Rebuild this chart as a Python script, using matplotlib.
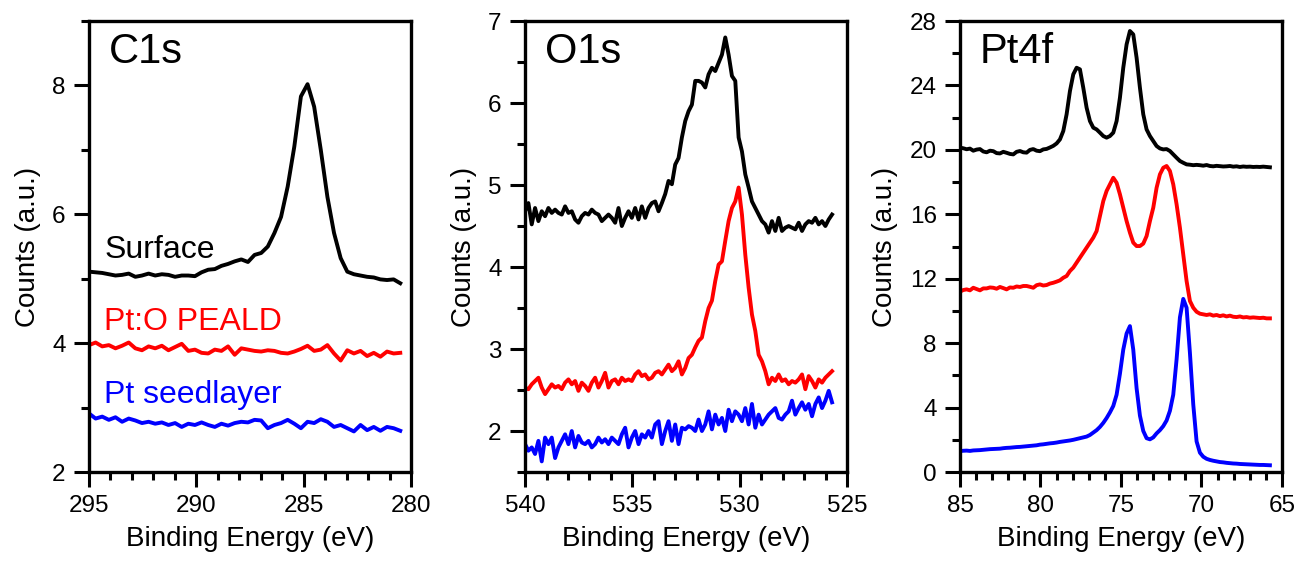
import numpy as np
import matplotlib
matplotlib.use("Agg")
import matplotlib.pyplot as plt
from matplotlib.ticker import MultipleLocator

plt.rcParams['font.family'] = ['Liberation Sans', 'DejaVu Sans']

# ---- C1s (binding energy 295 -> 280.5 eV, even steps) ----
c1s_range = (295.0, 280.5)
c1s_surface = [5.11, 5.10, 5.09, 5.07, 5.05, 5.06, 5.08, 5.03, 5.05, 5.08, 5.05, 5.07,
               5.06, 5.03, 5.05, 5.05, 5.04, 5.10, 5.14, 5.15, 5.20, 5.23, 5.27, 5.30,
               5.26, 5.37, 5.40, 5.50, 5.71, 5.96, 6.43, 7.05, 7.83, 8.02, 7.67, 7.00,
               6.27, 5.71, 5.32, 5.11, 5.07, 5.05, 5.03, 5.02, 4.99, 4.98, 4.99, 4.93]
c1s_pealdo = [3.97, 4.01, 3.95, 3.97, 3.92, 3.96, 4.01, 3.92, 3.89, 3.95, 3.92, 3.96,
              3.89, 3.94, 3.99, 3.88, 3.90, 3.85, 3.84, 3.90, 3.88, 3.95, 3.82, 3.92,
              3.90, 3.88, 3.87, 3.89, 3.88, 3.85, 3.84, 3.87, 3.91, 3.96, 3.88, 3.90,
              3.97, 3.84, 3.73, 3.89, 3.84, 3.88, 3.80, 3.85, 3.79, 3.87, 3.84, 3.85]
c1s_seed = [2.91, 2.83, 2.86, 2.81, 2.85, 2.78, 2.83, 2.80, 2.76, 2.78, 2.75, 2.77,
            2.73, 2.76, 2.70, 2.75, 2.73, 2.77, 2.73, 2.70, 2.75, 2.72, 2.76, 2.78,
            2.77, 2.81, 2.80, 2.68, 2.73, 2.76, 2.81, 2.75, 2.68, 2.78, 2.76, 2.82,
            2.78, 2.70, 2.73, 2.68, 2.63, 2.73, 2.65, 2.70, 2.64, 2.70, 2.68, 2.64]

# ---- O1s (540 -> 525.7 eV) ----
o1s_range = (540.0, 525.7)
o1s_surface = [4.68, 4.78, 4.52, 4.72, 4.56, 4.68, 4.62, 4.72, 4.66, 4.70, 4.66, 4.64,
               4.74, 4.66, 4.68, 4.58, 4.54, 4.62, 4.66, 4.64, 4.70, 4.66, 4.64, 4.56,
               4.60, 4.64, 4.60, 4.54, 4.72, 4.50, 4.60, 4.68, 4.60, 4.72, 4.58, 4.74,
               4.60, 4.72, 4.78, 4.80, 4.68, 4.78, 4.89, 5.05, 5.01, 5.25, 5.33, 5.58,
               5.78, 5.90, 5.98, 6.27, 6.27, 6.25, 6.19, 6.35, 6.43, 6.39, 6.49, 6.59,
               6.80, 6.59, 6.33, 6.27, 5.58, 5.41, 5.13, 4.97, 4.80, 4.72, 4.64, 4.56,
               4.52, 4.42, 4.56, 4.44, 4.60, 4.44, 4.48, 4.50, 4.48, 4.46, 4.54, 4.44,
               4.52, 4.56, 4.54, 4.60, 4.52, 4.56, 4.50, 4.58, 4.64]
o1s_pealdo = [2.53, 2.51, 2.57, 2.61, 2.65, 2.53, 2.45, 2.51, 2.57, 2.53, 2.55, 2.51,
              2.59, 2.63, 2.57, 2.61, 2.49, 2.59, 2.55, 2.49, 2.59, 2.65, 2.53, 2.61,
              2.71, 2.53, 2.61, 2.63, 2.57, 2.65, 2.61, 2.63, 2.61, 2.69, 2.73, 2.67,
              2.69, 2.63, 2.65, 2.71, 2.73, 2.69, 2.75, 2.81, 2.73, 2.77, 2.85, 2.69,
              2.77, 2.89, 2.93, 3.02, 3.10, 3.14, 3.34, 3.50, 3.59, 3.83, 4.03, 4.07,
              4.32, 4.56, 4.72, 4.80, 4.97, 4.64, 4.15, 3.75, 3.42, 3.22, 2.93, 2.85,
              2.73, 2.57, 2.65, 2.61, 2.69, 2.61, 2.63, 2.57, 2.61, 2.59, 2.63, 2.69,
              2.51, 2.67, 2.61, 2.53, 2.63, 2.59, 2.65, 2.69, 2.73]
o1s_seed = [1.84, 1.76, 1.80, 1.72, 1.88, 1.63, 1.92, 1.84, 1.92, 1.67, 1.80, 1.88,
            1.96, 1.84, 2.00, 1.80, 1.94, 1.86, 1.84, 1.88, 1.80, 1.84, 1.92, 1.86,
            1.90, 1.84, 1.92, 1.88, 1.84, 1.96, 2.04, 1.80, 1.92, 2.00, 1.84, 1.96,
            1.92, 2.00, 1.92, 2.08, 2.12, 1.84, 2.00, 2.12, 1.88, 2.08, 1.84, 2.04,
            2.02, 2.06, 2.04, 2.00, 2.14, 2.00, 2.08, 2.24, 2.02, 2.20, 2.08, 2.16,
            2.00, 2.26, 2.12, 2.24, 2.20, 2.12, 2.28, 2.08, 2.33, 2.04, 2.20, 2.08,
            2.14, 2.20, 2.24, 2.28, 2.16, 2.14, 2.20, 2.24, 2.37, 2.20, 2.28, 2.35,
            2.26, 2.33, 2.18, 2.33, 2.41, 2.28, 2.37, 2.49, 2.35]

# ---- Pt4f (85 -> 65.75 eV) ----
pt4f_range = (85.0, 65.75)
pt4f_surface = [20.14, 20.10, 20.04, 20.08, 19.95, 20.02, 20.05, 19.90, 19.85, 19.95,
                19.92, 19.80, 19.78, 19.88, 19.82, 19.75, 19.72, 19.88, 19.93, 19.85,
                19.83, 20.00, 20.05, 19.95, 19.92, 20.03, 20.06, 20.15, 20.25, 20.40,
                20.65, 21.17, 22.21, 23.65, 24.69, 25.10, 25.00, 23.86, 22.62, 21.79,
                21.38, 21.27, 21.07, 20.86, 20.76, 20.86, 21.07, 21.79, 23.24, 25.10,
                26.55, 27.38, 27.17, 25.72, 23.86, 22.21, 21.27, 20.86, 20.55, 20.24,
                20.09, 20.03, 20.05, 19.93, 19.72, 19.51, 19.31, 19.20, 19.10, 19.08,
                19.05, 19.07, 19.05, 19.02, 19.06, 19.00, 18.98, 19.01, 18.99, 18.97,
                18.98, 19.00, 18.96, 18.98, 18.94, 18.97, 18.95, 18.96, 18.94, 18.95,
                18.94, 18.96, 18.94, 18.92]
pt4f_pealdo = [11.20, 11.30, 11.34, 11.28, 11.44, 11.36, 11.28, 11.40, 11.40, 11.46,
               11.44, 11.38, 11.49, 11.42, 11.34, 11.46, 11.44, 11.52, 11.49, 11.55,
               11.55, 11.50, 11.44, 11.60, 11.65, 11.58, 11.61, 11.70, 11.75, 11.82,
               11.90, 12.06, 12.17, 12.48, 12.69, 13.00, 13.31, 13.62, 13.93, 14.24,
               14.55, 14.96, 15.89, 16.82, 17.45, 17.86, 18.27, 17.96, 17.24, 16.41,
               15.58, 14.86, 14.24, 14.03, 14.03, 14.18, 14.65, 15.58, 16.41, 17.65,
               18.48, 18.89, 19.00, 18.69, 17.86, 16.62, 15.17, 13.51, 11.86, 10.62,
               10.20, 9.95, 9.83, 9.79, 9.75, 9.79, 9.71, 9.75, 9.68, 9.73,
               9.66, 9.71, 9.64, 9.62, 9.66, 9.60, 9.62, 9.58, 9.60, 9.58,
               9.56, 9.58, 9.54, 9.54]
pt4f_seed = [1.30, 1.32, 1.33, 1.31, 1.34, 1.35, 1.36, 1.38, 1.40, 1.42,
             1.43, 1.44, 1.45, 1.48, 1.50, 1.51, 1.53, 1.55, 1.56, 1.58,
             1.60, 1.62, 1.64, 1.66, 1.70, 1.72, 1.75, 1.78, 1.80, 1.83,
             1.87, 1.90, 1.93, 1.96, 2.00, 2.05, 2.10, 2.15, 2.20, 2.30,
             2.45, 2.60, 2.80, 3.05, 3.35, 3.70, 4.10, 4.80, 6.10, 7.60,
             8.60, 9.06, 7.60, 5.20, 3.50, 2.55, 2.10, 2.03, 2.15, 2.40,
             2.60, 2.85, 3.20, 3.80, 4.80, 7.00, 9.60, 10.75, 10.20, 7.40,
             4.20, 1.90, 1.20, 0.95, 0.82, 0.75, 0.70, 0.66, 0.62, 0.60,
             0.57, 0.55, 0.53, 0.52, 0.50, 0.49, 0.48, 0.47, 0.46, 0.45,
             0.44, 0.44, 0.43, 0.42]

series_colors = ['black', 'red', 'blue']
series_names = ['Surface', 'Pt:O PEALD', 'Pt seedlayer']

panels = [
    # title, energy range, curves, xlim, ylim, x major, y major, y minor
    ('C1s', c1s_range, [c1s_surface, c1s_pealdo, c1s_seed], (295, 280), (2, 9), 5, 2, 1),
    ('O1s', o1s_range, [o1s_surface, o1s_pealdo, o1s_seed], (540, 525), (1.5, 7), 5, 1, 0.5),
    ('Pt4f', pt4f_range, [pt4f_surface, pt4f_pealdo, pt4f_seed], (85, 65), (0, 28), 5, 4, 2),
]
lefts = [0.0685, 0.4042, 0.7390]

fig = plt.figure(figsize=(12.99, 5.61), dpi=100)

for left, (title, erange, curves, xlim, ylim, xmaj, ymaj, ymin) in zip(lefts, panels):
    ax = fig.add_axes([left, 0.1586, 0.2479, 0.8039])
    for y, c in zip(curves, series_colors):
        x = np.linspace(erange[0], erange[1], len(y))
        ax.plot(x, y, color=c, lw=2.8, solid_joinstyle='round')
    ax.set_xlim(*xlim)
    ax.set_ylim(*ylim)
    ax.xaxis.set_major_locator(MultipleLocator(xmaj))
    ax.xaxis.set_minor_locator(MultipleLocator(1))
    ax.yaxis.set_major_locator(MultipleLocator(ymaj))
    ax.yaxis.set_minor_locator(MultipleLocator(ymin))
    ax.tick_params(which='both', direction='out', width=2.2, top=False, right=False,
                   labelsize=17.5)
    ax.tick_params(which='major', length=10.8, pad=6)
    ax.tick_params(which='minor', length=5.8)
    for sp in ax.spines.values():
        sp.set_linewidth(2.4)
    ax.set_xlabel('Binding Energy (eV)', fontsize=20, labelpad=6)
    ax.set_ylabel('Counts (a.u.)', fontsize=20, labelpad=8)
    ax.text(0.062, 0.906, title, transform=ax.transAxes, fontsize=30, va='baseline')

# sample labels only on the C1s panel
ax0 = fig.axes[0]
for name, c, yf in zip(series_names, series_colors, [0.474, 0.315, 0.153]):
    ax0.text(0.047, yf, name, color=c, transform=ax0.transAxes, fontsize=23, va='baseline')

fig.savefig('out.png', dpi=100)
